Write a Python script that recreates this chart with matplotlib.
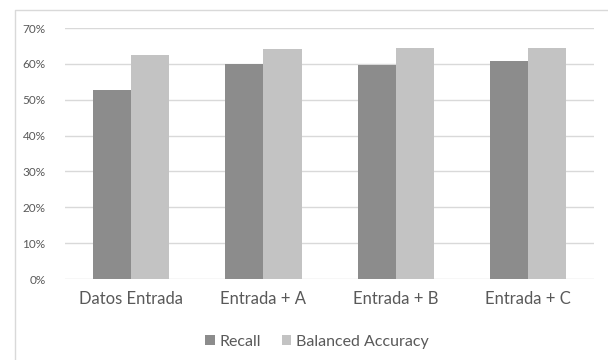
import matplotlib.pyplot as plt
import numpy as np
from matplotlib.lines import Line2D

plt.rcParams['font.family'] = ['Lato', 'DejaVu Sans']

# Data
categories = ['Datos Entrada', 'Entrada + A', 'Entrada + B', 'Entrada + C']
recall = [52.8, 60.1, 59.8, 60.7]
balanced_acc = [62.5, 64.2, 64.4, 64.4]

text_color = '#595959'
fig = plt.figure(figsize=(6.08, 3.6), dpi=100)
ax = fig.add_axes([0.107, 0.225, 0.870, 0.697])

x = np.arange(len(categories))
w = 0.288
ax.bar(x - w / 2, recall, w, color='#8c8c8c', label='Recall', zorder=3)
ax.bar(x + w / 2, balanced_acc, w, color='#c3c3c3', label='Balanced Accuracy', zorder=3)

ax.set_xlim(-0.5, len(categories) - 0.5)
ax.set_ylim(0, 70)
ax.set_yticks(np.arange(0, 71, 10))
ax.set_yticklabels([f'{v}%' for v in range(0, 71, 10)])
ax.set_xticks(x)
ax.set_xticklabels(categories)
ax.grid(axis='y', color='#d9d9d9', linewidth=1, zorder=0)
for s in ax.spines.values():
    s.set_visible(False)
ax.tick_params(length=0, colors=text_color)
ax.tick_params(axis='y', labelsize=8.5, pad=14)
ax.tick_params(axis='x', labelsize=12, pad=9)

ax.legend(loc='center', bbox_to_anchor=(0.476, -0.25), ncol=2, frameon=False,
          fontsize=11.5, labelcolor=text_color, handlelength=0.6, handleheight=0.6,
          handletextpad=0.3, columnspacing=1.3)

# chart border (top and left edges)
fig.add_artist(Line2D([15 / 608, 15 / 608, 1], [0, 350 / 360, 350 / 360],
                      transform=fig.transFigure, color='#d9d9d9', linewidth=1))

plt.savefig('out.png')
